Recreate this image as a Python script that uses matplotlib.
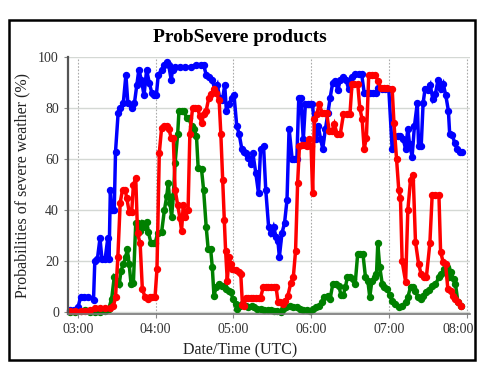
import numpy as np
import matplotlib
matplotlib.use("Agg")
import matplotlib.pyplot as plt
from matplotlib.patches import Rectangle
from matplotlib.transforms import ScaledTranslation

plt.rcParams['font.family'] = ['Liberation Serif', 'DejaVu Serif']

# minutes after 03:00 UTC and probabilities (%)
blue_t = [-6, -3, 0, 2, 5, 8, 12, 13, 15, 17, 18.5, 21, 23, 24, 25, 26, 28, 29, 31, 32.6,
          35, 37, 38.5, 41.5, 43.6, 45.4, 47, 49, 51, 53, 55, 57, 59, 60.5, 62, 64.6, 66.7, 68.5, 70, 72,
          73, 75, 79, 83, 87, 91, 95, 97, 99, 101, 103.7, 105.8, 107.6, 109.4, 111.5, 113.3, 114.6, 116.6, 118.7, 120.5,
          122.6, 124.4, 126.5, 128.3, 130, 131.6, 133.4, 135, 137.3, 139.4, 141, 143.3, 145, 147.2, 149, 151, 153, 154.4, 155.5, 157.5,
          159.5, 161.4, 163, 165.4, 167, 169, 170.5, 172, 174, 175.6, 177.4, 179, 181, 183.7, 185.6, 187.3, 189, 191, 193, 194.7,
          196.7, 198.8, 200.6, 202.6, 205, 207, 209, 211.6, 214, 216.8, 219, 221, 223, 225.8, 228, 230, 232, 234.8, 237.4, 240,
          242.6, 244.4, 247, 249, 251, 253, 254.7, 256, 258, 259.8, 262, 263, 265, 266.5, 268, 270, 272, 274, 276, 278,
          280, 282, 284, 286, 287, 289, 290.8, 292.8, 295, 296.7]
blue_v = [1, 1, 2, 6, 6, 6, 5, 20, 21, 29, 21, 21, 29, 21, 48, 40, 40, 63, 78, 80,
          82, 93, 82, 80, 82, 89, 95, 91, 85, 95, 90, 86, 85, 85, 93, 95, 97, 98, 97, 91,
          95, 96, 96, 96, 96, 97, 97, 97, 93, 92, 91, 87, 89, 84, 83, 89, 79, 81.6, 84, 85,
          73, 70, 64, 63, 62.5, 60.5, 58, 62.5, 54.6, 46.7, 64, 65, 48, 33.5, 31, 33.5, 29.6, 28, 21.7, 31,
          35, 44, 72, 60, 60, 60, 84, 84, 67.8, 81.6, 81.6, 81.6, 81.6, 68, 73, 68, 64, 71.7, 78, 84,
          90, 90.5, 87, 91, 92, 91, 87.5, 92, 93.4, 93.4, 93.4, 86, 86, 86, 86, 86, 88, 87.5, 87.5, 87.5,
          64, 69, 69, 69, 68, 64, 72, 66, 61, 73, 82, 65, 65, 82, 87.5, 87, 89, 83.5, 85.5, 91,
          87.5, 89.5, 85, 79, 70, 69.5, 66.5, 64, 63, 63]

red_t = [-6, -2, 2, 5.6, 9.5, 13.3, 17, 21, 25, 27.4, 29, 30.8, 32.6, 34.4, 36.4, 37.7, 39.5, 41.5, 42.8, 44.6,
         46, 48, 49.7, 51.8, 53.8, 55.6, 57.4, 59.5, 61, 62.8, 64.6, 66.7, 68.5, 70, 72, 73.6, 75, 77, 78.7, 80,
         81.3, 83, 85, 86.4, 88.5, 90, 92.3, 94, 95.5, 97, 99, 101, 103, 105, 106.8, 109, 110.3, 111.7, 113, 114,
         115.3, 116.6, 118, 119, 121.8, 124, 125.7, 127, 128, 129.6, 131.6, 133.4, 135, 137.3, 139.4, 141, 143, 145, 147, 149,
         151, 153, 154.5, 156, 158, 160, 162, 164.4, 166.3, 168, 169.6, 171, 173, 175, 176.7, 178, 180, 181.2, 182.5, 184.3,
         186.4, 188.5, 190, 192, 194, 196, 198, 200, 202.6, 205, 208, 210, 211.6, 213.5, 216, 217.6, 219.4, 221, 222.7, 224.5,
         227, 229.7, 231.5, 233.6, 236, 238.7, 242.6, 244, 246, 247.7, 249, 250.3, 253, 254.7, 256.8, 258.8, 260.6, 263, 265, 267,
         269, 271.7, 273.5, 276, 278.7, 280, 282, 283.8, 285.6, 288, 289.7, 291.5, 293.4, 295.4]
red_v = [0.7, 0.7, 0.5, 0.7, 1, 1.7, 1.7, 1.7, 1.7, 2.6, 6, 21.7, 43, 48, 48, 44.7, 39.5, 39.5, 50, 52.6,
         31, 27, 9.2, 6, 5.3, 6, 6, 6, 17, 62.5, 72.4, 73, 73, 72, 68.4, 68.4, 48, 42, 37, 32,
         42, 37.5, 40, 70, 80, 80, 80, 77, 74, 77.6, 79, 84, 85.5, 87.5, 86, 83, 70, 52, 36, 24,
         12.5, 21.7, 19, 17, 16.5, 15.8, 15, 3, 2.5, 5.8, 5.8, 5.8, 5.8, 5.8, 5.8, 5.8, 9.8, 9.8, 9.8, 9.8,
         9.8, 9.8, 4, 4, 3.5, 4.5, 6.4, 11.7, 14, 24, 50.6, 65, 65.5, 65.5, 65, 67.8, 65, 46.7, 75.7, 77.6,
         81.6, 78, 78, 78, 71, 71, 73.7, 70, 70, 77.6, 77.6, 77.6, 89.5, 89.5, 89.5, 80, 75.7, 64, 68.4, 92.8,
         92.8, 92.8, 90.8, 88, 88, 88, 87.5, 74, 60, 48, 45, 20, 12, 40, 52, 54, 27.6, 19, 15, 13.8,
         13.8, 27, 46, 46, 46, 23.7, 19.7, 19, 9.2, 8.5, 6.6, 5.3, 4, 2.6]

green_t = [-6, -2, 2, 5.6, 9.5, 13.3, 17, 21, 23.6, 26, 28, 30, 31.8, 33.3, 35, 37, 38, 39.5, 41, 42.8,
           44.6, 46, 48, 49.7, 51.8, 53, 54.4, 56.4, 58, 59.5, 61.5, 64.6, 66.7, 68.5, 69.7, 71, 72.3, 73.6, 75, 77,
           78, 80, 82, 83.8, 85.6, 87.7, 89.7, 91.5, 92.8, 95.4, 97, 99, 100.5, 102.4, 103.7, 105, 106.8, 109, 111, 112.8,
           114.6, 116.6, 118, 119.7, 121.8, 123, 125, 127, 129.6, 131.6, 134, 136, 138.6, 141, 143.8, 146.4, 149, 151.5, 154, 156.7,
           158.5, 161, 163.7, 166.3, 168.8, 171.4, 174, 176.6, 179, 181.2, 183.8, 186.4, 188.5, 190.3, 193, 194.7, 196.7, 199.3, 201.4, 203,
           205, 206.5, 208, 210, 212, 214, 216, 218, 220, 222, 223.8, 225.3, 227, 229, 230.5, 231.5, 233, 235, 236.6, 238.7,
           240.8, 242.6, 245, 247.7, 250.3, 253, 254.7, 256.8, 258.8, 260.6, 262.4, 264.5, 266.5, 268.4, 271, 273.5, 276, 278.7, 280.5, 282.5,
           284.6, 286.4, 288, 290, 291.5, 293.4, 295.4]
green_v = [0, 0, 0.7, 1, 0, 0, 0, 0.5, 1.3, 5.3, 13.8, 12.5, 11, 16.4, 19, 21.7, 25, 19, 11, 11.7,
           35, 35, 32, 35, 33.5, 35.5, 31.5, 27, 27, 27, 31, 31.5, 40, 45.4, 50.6, 42.8, 37.5, 45.4, 58.5, 70,
           79, 79, 79, 76, 76, 73, 71.7, 69, 56.6, 56, 48, 33.5, 25, 25, 17.8, 6.6, 10, 11, 10.5, 10.5,
           9, 8.5, 7.9, 5.3, 3.3, 1.3, 2.6, 3.3, 2.6, 2.2, 2.6, 2, 1.3, 1.3, 0.9, 0.9, 0.9, 0.7, 0.4, 0,
           1.3, 2, 2.6, 2.2, 2, 1.3, 0.9, 0.9, 0.7, 1.3, 2, 2.6, 4, 6, 6.6, 5.3, 11, 11, 10.5, 7,
           7, 10, 13.8, 13.8, 13, 11, 23, 23, 23, 13.8, 12.5, 6, 12.5, 13.8, 15, 27, 17.8, 11, 10, 9,
           7, 4.6, 3.3, 2, 2.6, 4, 6, 10, 10, 8.5, 6, 5.3, 6.6, 8, 8.9, 10.5, 11, 13.8, 15, 17,
           17.8, 13.8, 15.8, 13, 11, 4, 2.6]

tick_pos = [0, 60, 120, 180, 240, 300]
tick_labels = ["03:00", "04:00", "05:00", "06:00", "07:00", "08:00"]

fig = plt.figure(figsize=(4.8, 3.67), dpi=100)
ax = fig.add_axes([68/480, 1-314/367, (470-68)/480, (314-57)/367])

style = dict(lw=2.5, marker='o', ms=4.3, solid_joinstyle='miter', clip_on=False)
ax.plot(green_t, green_v, color='#008000', **style)
ax.plot(blue_t, blue_v, color='#0000ff', **style)
ax.plot(red_t, red_v, color='#ff0000', **style)

ax.set_xlim(-7.7, 302.7)
ax.set_ylim(-0.6, 100)
ax.set_xticks(tick_pos)
ax.set_xticklabels(tick_labels)
ax.set_yticks([0, 20, 40, 60, 80, 100])

ax.grid(axis='y', color='#d4d8d4', lw=1, ls='-')
ax.grid(axis='x', color='#aaaaaa', lw=0.8, ls=(0, (1.5, 1.5)))
ax.set_axisbelow(True)
for s in ['top', 'right']:
    ax.spines[s].set_visible(False)
ax.spines['left'].set_color('#555555')
ax.spines['left'].set_linewidth(1.6)
ax.spines['bottom'].set_color('#777777')
ax.spines['bottom'].set_linewidth(1.2)
ax.tick_params(axis='both', length=3, width=0.8, color='#888888', labelsize=10, labelcolor='#333333')

# last time label is pulled in so it stays inside the frame (after tick_params, which resets transforms)
last = ax.get_xticklabels()[-1]
last.set_transform(last.get_transform() + ScaledTranslation(-8/100, 0, fig.dpi_scale_trans))

fig.text(0.5, 1-37/367, "ProbSevere products", ha='center', va='center',
         fontsize=14, fontweight='bold')
fig.text(0.5, 1-350/367, "Date/Time (UTC)", ha='center', va='center', fontsize=11.5, color='#222222')
fig.text(22/480, 1-185/367, "Probabilities of severe weather (%)", ha='center', va='center',
         rotation=90, fontsize=11.5, color='#222222')

fig.patches.append(Rectangle((9/480, 1-360/367), 466/480, 340/367, transform=fig.transFigure,
                             fill=False, ec='black', lw=1.8))

fig.savefig("out.png", dpi=100)
